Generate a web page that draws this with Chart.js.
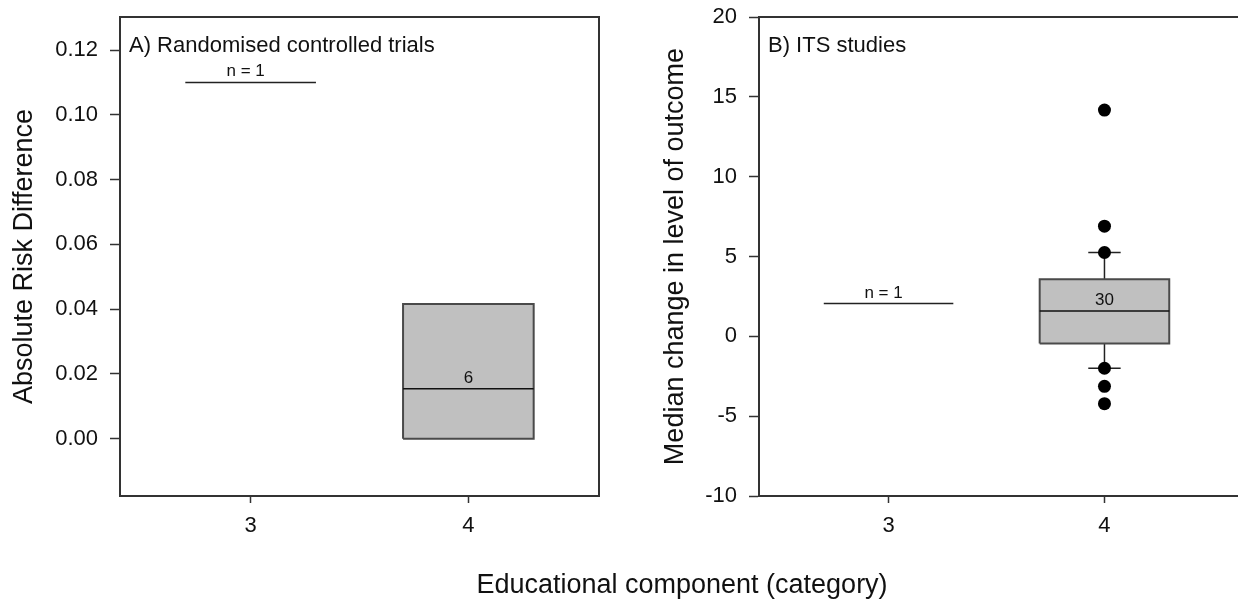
<!DOCTYPE html>
<html>
<head>
<meta charset="utf-8">
<title>Educational component (category)</title>
<script src="https://cdn.jsdelivr.net/npm/chart.js@4.4.1/dist/chart.umd.min.js"></script>
<style>
  html, body { margin: 0; padding: 0; background: #fff; }
  #wrap { position: relative; width: 1238px; height: 604px; overflow: hidden; background: #fff; }
  #cA { position: absolute; left: 0; top: 0; }
  #cB { position: absolute; left: 620px; top: 0; }
  #xTitle {
    position: absolute; left: 682px; top: 571px; transform: translateX(-50%);
    font-family: "Liberation Sans", Arial, sans-serif; font-size: 27px; line-height: 27px;
    color: #111; white-space: nowrap;
  }
</style>
</head>
<body>
<div id="wrap">
  <canvas id="cA" width="620" height="604"></canvas>
  <canvas id="cB" width="627" height="604"></canvas>
  <div id="xTitle">Educational component (category)</div>
</div>
<script>
// ---- data ----
const categories = [3, 4];
const xTickLabels = ['3', '4'];

// Panel A: randomised controlled trials (absolute risk difference)
const rctTicks = [0.00, 0.02, 0.04, 0.06, 0.08, 0.10, 0.12];
const rctSingle = [0.110];                 // category 3, single study
const rctBox = [0.000, 0.0154, 0.0416];    // category 4: Q1, median, Q3
const rctCounts = [1, 6];

// Panel B: ITS studies (median change in level of outcome)
const itsTicks = [-10, -5, 0, 5, 10, 15, 20];
const itsSingle = [2.05];                  // category 3, single study
const itsBox = [-0.45, 1.58, 3.57];        // category 4: Q1, median, Q3
const itsWhiskers = [-2.0, 5.25];          // lower / upper whisker ends
const itsOutliers = [14.17, 6.9, 5.25, -2.0, -3.13, -4.22];
const itsCounts = [1, 30];

// ---- drawing helpers ----
const FONT = '"Liberation Sans", Arial, sans-serif';
const BOX_HALF = 0.3;
const CAP_HALF = 0.075;
const FRAME = '#333';

function singleLine(cat, v) {
  return [{x: cat - BOX_HALF, y: v}, {x: cat + BOX_HALF, y: v}];
}

function boxDatasets(cat, box, whiskers, outliers) {
  const [q1, med, q3] = box;
  const sets = [];
  sets.push({
    type: 'line', order: 5,
    data: [{x: cat - BOX_HALF, y: q3}, {x: cat + BOX_HALF, y: q3}],
    borderWidth: 0, pointRadius: 0, backgroundColor: '#c0c0c0',
    fill: {value: q1}
  });
  sets.push({
    type: 'line', order: 3,
    data: [
      {x: cat - BOX_HALF, y: q1}, {x: cat + BOX_HALF, y: q1},
      {x: cat + BOX_HALF, y: q3}, {x: cat - BOX_HALF, y: q3},
      {x: cat - BOX_HALF, y: q1}
    ],
    borderColor: '#4a4a4a', borderWidth: 2, pointRadius: 0, fill: false
  });
  sets.push({
    type: 'line', order: 2,
    data: [{x: cat - BOX_HALF, y: med}, {x: cat + BOX_HALF, y: med}],
    borderColor: '#111', borderWidth: 1.5, pointRadius: 0, fill: false
  });
  if (whiskers) {
    const [lo, hi] = whiskers;
    sets.push({
      type: 'line', order: 4, spanGaps: false,
      data: [
        {x: cat, y: q3}, {x: cat, y: hi}, {x: cat, y: null},
        {x: cat - CAP_HALF, y: hi}, {x: cat + CAP_HALF, y: hi}, {x: cat, y: null},
        {x: cat, y: q1}, {x: cat, y: lo}, {x: cat, y: null},
        {x: cat - CAP_HALF, y: lo}, {x: cat + CAP_HALF, y: lo}
      ],
      borderColor: '#222', borderWidth: 1.5, pointRadius: 0, fill: false
    });
  }
  if (outliers) {
    sets.push({
      type: 'scatter', order: 0,
      data: outliers.map(v => ({x: cat, y: v})),
      backgroundColor: '#000', borderColor: '#000', pointRadius: 6.5, borderWidth: 0
    });
  }
  return sets;
}

// frame and text annotations
const panelPlugin = {
  id: 'panel',
  afterDraw(chart, args, opts) {
    const {ctx, chartArea: a, scales: {x, y}} = chart;
    ctx.save();
    ctx.strokeStyle = FRAME;
    ctx.lineWidth = 2;
    ctx.strokeRect(a.left, a.top, a.right - a.left, a.bottom - a.top);

    ctx.fillStyle = '#111';
    ctx.textAlign = 'left';
    ctx.textBaseline = 'alphabetic';
    ctx.font = '22px ' + FONT;
    ctx.fillText(opts.label, a.left + 9, a.top + 35);

    ctx.font = '17px ' + FONT;
    ctx.textAlign = 'center';
    ctx.fillText('n = ' + opts.counts[0], x.getPixelForValue(categories[0]) - 5,
                 y.getPixelForValue(opts.single) - 6);
    ctx.fillText(String(opts.counts[1]), x.getPixelForValue(categories[1]),
                 y.getPixelForValue(opts.median) - 6);
    ctx.restore();
  }
};

function noEdgePadding(s) {
  s.paddingTop = 0; s.paddingBottom = 0; s.paddingLeft = 0; s.paddingRight = 0;
}

function makeChart(canvas, cfg) {
  return new Chart(canvas, {
    data: {datasets: cfg.datasets},
    options: {
      responsive: false,
      animation: false,
      devicePixelRatio: 1,
      layout: {padding: {top: 17, right: cfg.padRight, bottom: 0, left: 0}},
      plugins: {
        legend: {display: false},
        tooltip: {enabled: false},
        panel: {label: cfg.label, counts: cfg.counts, single: cfg.single, median: cfg.median}
      },
      scales: {
        x: {
          type: 'linear', min: 2.4, max: cfg.xMax,
          afterBuildTicks: s => { s.ticks = categories.map(v => ({value: v})); },
          afterFit: s => { s.height = 108; noEdgePadding(s); },
          ticks: {
            callback: (v, i) => xTickLabels[i],
            font: {family: FONT, size: 22}, color: '#111', padding: 10, maxRotation: 0
          },
          grid: {display: true, drawOnChartArea: false, drawTicks: true, tickLength: 7,
                 tickColor: FRAME, tickWidth: 1.5},
          border: {display: true, color: FRAME, width: 2}
        },
        y: {
          type: 'linear', min: cfg.yMin, max: cfg.yMax,
          afterBuildTicks: s => { s.ticks = cfg.ticks.map(v => ({value: v})); },
          afterFit: s => { s.width = cfg.axisWidth; noEdgePadding(s); },
          ticks: {
            callback: cfg.fmt,
            font: {family: FONT, size: 22}, color: '#111', padding: 12
          },
          grid: {display: true, drawOnChartArea: false, drawTicks: true, tickLength: 10,
                 tickColor: FRAME, tickWidth: 1.5},
          border: {display: true, color: FRAME, width: 2},
          title: {
            display: true, text: cfg.title, color: '#111',
            font: {family: FONT, size: 27}, padding: {top: cfg.titlePad, bottom: 0}
          }
        }
      }
    },
    plugins: [panelPlugin]
  });
}

makeChart(document.getElementById('cA'), {
  label: 'A) Randomised controlled trials',
  title: 'Absolute Risk Difference',
  counts: rctCounts, single: rctSingle[0], median: rctBox[1],
  ticks: rctTicks, yMin: -0.0177, yMax: 0.1302, xMax: 4.6,
  fmt: v => Number(v).toFixed(2),
  axisWidth: 120, padRight: 21, titlePad: 8,
  datasets: [
    {type: 'line', order: 1, data: singleLine(categories[0], rctSingle[0]),
     borderColor: '#222', borderWidth: 1.5, pointRadius: 0, fill: false},
    ...boxDatasets(categories[1], rctBox, null, null)
  ]
});

makeChart(document.getElementById('cB'), {
  label: 'B) ITS studies',
  title: 'Median change in level of outcome',
  counts: itsCounts, single: itsSingle[0], median: itsBox[1],
  ticks: itsTicks, yMin: -10, yMax: 20, xMax: 4.63,
  fmt: v => String(v),
  axisWidth: 139, padRight: 0, titlePad: 39,
  datasets: [
    {type: 'line', order: 1, data: singleLine(categories[0], itsSingle[0]),
     borderColor: '#222', borderWidth: 1.5, pointRadius: 0, fill: false},
    ...boxDatasets(categories[1], itsBox, itsWhiskers, itsOutliers)
  ]
});
</script>
</body>
</html>
